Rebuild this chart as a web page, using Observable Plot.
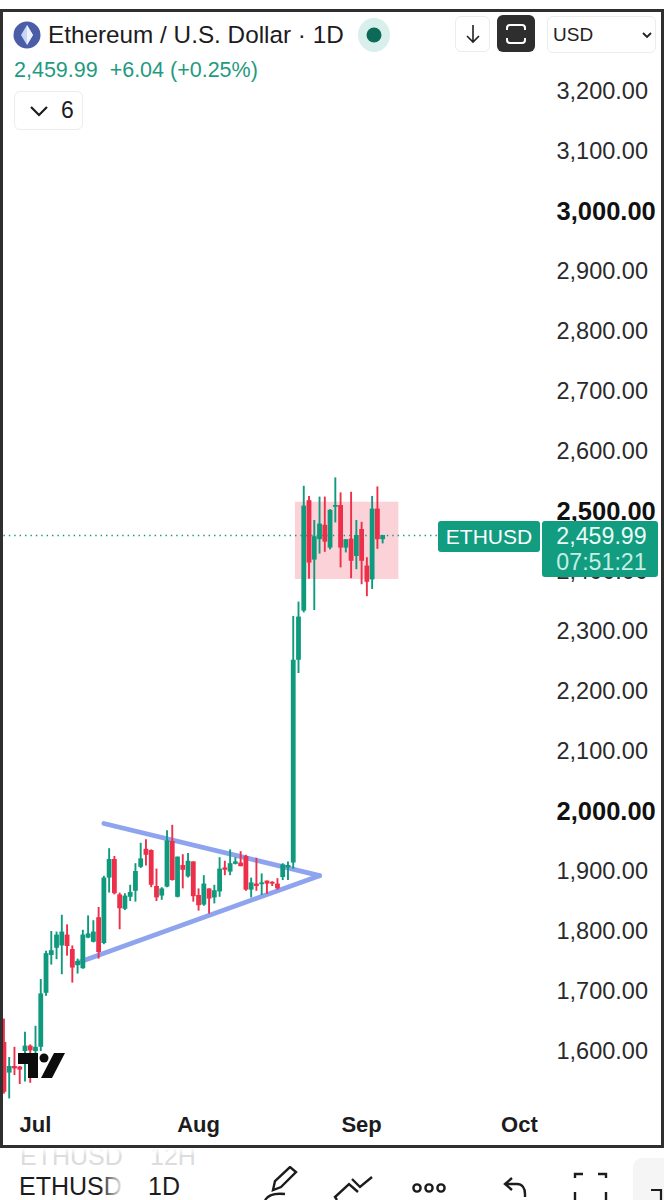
<!DOCTYPE html>
<html><head><meta charset="utf-8">
<script src="https://cdn.jsdelivr.net/npm/d3@7"></script>
<script src="https://cdn.jsdelivr.net/npm/@observablehq/plot@0.6"></script>
<style>
html,body{margin:0;padding:0;background:#fff}
#page{position:relative;width:664px;height:1200px;overflow:hidden;font-family:"Liberation Sans",sans-serif;color:#1c1c1e}
#page svg{display:block}
.o{position:absolute;white-space:nowrap;line-height:1}
.box{position:absolute;box-sizing:border-box;border:1.5px solid #ececec;border-radius:6px;background:#fff}
</style></head><body><div id="page"><div id="chart"></div>
<div class="o" style="left:20px;top:1144px;font-size:25px;color:#dcdcdc">ETHUSD</div>
<div class="o" style="left:150px;top:1144px;font-size:25px;color:#dcdcdc">12H</div>
<div class="o" style="left:0;top:1148px;width:664px;height:8px;background:linear-gradient(180deg,#fff,rgba(255,255,255,0))"></div>
<div class="o" style="left:0;top:9px;width:664px;height:1139px;box-sizing:border-box;border:3px solid #2f2f2f"></div>

<svg class="o" style="left:13px;top:21px" width="28" height="28" viewBox="0 0 28 28"><circle cx="14" cy="14" r="13.5" fill="#4a5da6"/><path d="M14 4l6 10-6 10-6-10z" fill="#c9d5f7"/><path d="M14 4v20l6-10z" fill="#eef2ff"/></svg>
<div class="o" style="left:48px;top:23px;font-size:24.3px">Ethereum / U.S. Dollar · 1D</div>
<svg class="o" style="left:357px;top:17px" width="34" height="36"><ellipse cx="17" cy="18" rx="16" ry="17" fill="#d9efec"/><circle cx="17" cy="18" r="7.5" fill="#0b6b58"/></svg>
<div class="box" style="left:455px;top:16px;width:35px;height:36px"></div>
<svg class="o" style="left:465px;top:24px" width="16" height="20" fill="none" stroke="#222" stroke-width="1.6"><path d="M8 1v17M2 12l6 6 6-6"/></svg>
<div class="o" style="left:497px;top:15px;width:38px;height:37px;background:#2e2e2e;border-radius:6px"></div>
<svg class="o" style="left:505px;top:23px" width="22" height="22" fill="none" stroke="#fff" stroke-width="2"><path d="M2 7V5a3 3 0 0 1 3-3h12a3 3 0 0 1 3 3v2M2 15v2a3 3 0 0 0 3 3h12a3 3 0 0 0 3-3v-2"/></svg>
<div class="box" style="left:547px;top:16px;width:109px;height:37px"></div>
<div class="o" style="left:553px;top:25px;font-size:19px;color:#222">USD</div>
<svg class="o" style="left:642px;top:32px" width="10" height="7" fill="none" stroke="#222" stroke-width="1.8"><path d="M1 1l4 4 4-4"/></svg>
<div class="o" style="left:14px;top:60px;font-size:21.5px;color:#1f9b80">2,459.99&nbsp; +6.04 (+0.25%)</div>
<div class="box" style="left:14px;top:91px;width:69px;height:39px"></div>
<svg class="o" style="left:29px;top:105px" width="20" height="12" fill="none" stroke="#1c1c1e" stroke-width="2.2"><path d="M2 2l8 8 8-8"/></svg>
<div class="o" style="left:61px;top:99px;font-size:23px">6</div>

<svg class="o" style="left:18px;top:1052px" width="48" height="27" fill="#0c0c0c"><path d="M0 1h20v25H10V12H0z"/><circle cx="26" cy="6" r="4.5"/><path d="M36 1h11L34 26H23z"/></svg>

<div class="o" style="left:438px;top:521px;width:102px;height:31px;background:#129c80;border-radius:3px;color:#fff;font-size:21px;line-height:32px;text-align:center">ETHUSD</div>
<div class="o" style="left:542px;top:521px;width:116px;height:56px;background:#129c80;border-radius:3px;color:#eafaf6;font-size:23.2px;line-height:26px;text-align:center;padding:2px 0 0 3px;box-sizing:border-box">2,459.99<br><span style="color:#c4efe5">07:51:21</span></div>

<div class="o" style="left:19px;top:1174px;font-size:25px;color:#1c1c1e">ETHUSD</div>
<div class="o" style="left:100px;top:1170px;width:24px;height:30px;background:linear-gradient(90deg,rgba(255,255,255,0),#fff)"></div>
<div class="o" style="left:148px;top:1174px;font-size:25px;color:#1c1c1e">1D</div>
<svg class="o" style="left:260px;top:1166px" width="404" height="34" fill="none" stroke="#1c1c1e" stroke-width="2.4">
<path d="M13 24l2-9 15-14 6 5-15 15zM5 34c3-5 11-7 20-6"/>
<path d="M77 34l-2-3 14-13 9 8M92 13l8 8 12-10"/>
<circle cx="157" cy="22" r="3.6"/><circle cx="169" cy="22" r="3.6"/><circle cx="181" cy="22" r="3.6"/>
<path d="M252 24l-7-6 7-6M245 18h12c5 0 8 4 8 10v3"/>
<path d="M315 12V8h8M338 8h8v4M315 26v8M346 26v8"/>
</svg>
<div class="o" style="left:633px;top:1158px;width:60px;height:60px;background:#f5f5f5;border-radius:9px"></div>
<svg class="o" style="left:650px;top:1188px" width="14" height="12" fill="none" stroke="#1c1c1e" stroke-width="2.2"><path d="M1 2h10v10"/></svg>
</div>
<script>
const dates = d3.utcDay.range(new Date("2024-06-25"), new Date("2024-09-06"));
const opens = [1615,1564,1575,1574,1600,1609,1600,1607,1697,1760,1772,1776,1794,1770,1743,1738,1789,1782,1823,1780,1889,1920,1861,1837,1857,1867,1907,1937,1935,1875,1859,1874,
1950,1857,1910,1891,1916,1860,1844,1871,1856,1866,1906,1899,1912,1914,1925,1869,1879,1878,1884,1882,1879,1890,1906,
1914,2252,2334,2518,2419,2453,2477,2439,2507,2510,2439,2454,2425,2470,2409,2386,2504,2453];
const closes = [1532,1575,1571,1569,1609,1601,1607,1696,1763,1768,1794,1799,1775,1739,1750,1794,1796,1799,1765,1889,1920,1863,1838,1859,1865,1900,1921,1927,1877,1856,1871,1951,
1885,1924,1902,1917,1858,1843,1879,1854,1868,1904,1902,1913,1916,1908,1869,1881,1875,1881,1879,1879,1871,1911,1910,
2252,2324,2509,2414,2458,2479,2449,2502,2510,2439,2453,2417,2460,2417,2382,2504,2453,2459.99];
const highs = [1654,1590,1607,1575,1632,1611,1642,1720,1767,1800,1799,1827,1811,1776,1754,1802,1826,1818,1840,1892,1938,1925,1864,1863,1877,1913,1947,1953,1936,1904,1873,1968,
1977,1924,1928,1930,1916,1871,1893,1871,1877,1923,1917,1936,1923,1933,1927,1889,1922,1896,1884,1883,1888,1913,1916,
2325,2349,2542,2525,2485,2524,2524,2503,2556,2531,2453,2532,2485,2482,2423,2525,2541,2460];
const lows = [1529,1521,1560,1545,1549,1547,1590,1600,1692,1744,1753,1728,1759,1714,1729,1737,1788,1781,1754,1778,1864,1861,1803,1835,1850,1849,1905,1909,1873,1850,1852,1873,
1884,1856,1871,1889,1849,1834,1842,1829,1846,1857,1893,1893,1911,1908,1867,1856,1867,1860,1862,1875,1869,1885,1885,
1904,2230,2331,2387,2335,2429,2432,2436,2481,2406,2431,2388,2403,2378,2358,2370,2437,2446];
const yTicksRegular = [3200,3100,2900,2800,2700,2600,2400,2300,2200,2100,1900,1800,1700,1600];
const yTicksBold = [3000,2500,2000];
const xTicks = ["2024-07-01","2024-08-01","2024-09-01","2024-10-01"].map(d => new Date(d));
const lastPrice = 2459.99;
const upperLine = [{d:new Date("2024-07-14"),p:1980},{d:new Date("2024-08-24"),p:1893}];
const lowerLine = [{d:new Date("2024-07-09"),p:1748},{d:new Date("2024-08-24"),p:1893}];
const rangeBox = [{d1:new Date("2024-08-19T10:00Z"),d2:new Date("2024-09-08T02:00Z"),top:2515.5,bottom:2386.7}];
const dottedEnds = [{d1:new Date("2024-06-25"),d2:new Date("2024-10-05T00:00Z")}];

const candles = dates.map((d,i)=>({d,o:opens[i],c:closes[i],h:highs[i],l:lows[i]}));
const up = candles.filter(d=>d.c>=d.o), down = candles.filter(d=>d.c<d.o);
const GREEN="#0f9a7e", RED="#ee2f4a";
const fmt = d3.format(",.2f");
const AXF = "Liberation Sans";
const candleMarks = (data,color)=>[
  Plot.ruleX(data,{x:"d",y1:"l",y2:"h",stroke:color,strokeWidth:1.9}),
  Plot.ruleX(data,{x:"d",y1:"o",y2:"c",stroke:color,strokeWidth:4.8})
];
const chart = Plot.plot({
  width:664,height:1200,
  marginLeft:0,marginRight:108,marginTop:0,marginBottom:90,
  style:{background:"#fff",fontFamily:AXF,color:"#1c1c1e",overflow:"hidden"},
  x:{type:"utc",domain:[new Date("2024-06-24T08:18Z"),new Date("2024-10-28T14:00Z")],range:[0,664]},
  y:{type:"linear",domain:[3200,1600],range:[91,1051]},
  marks:[
    Plot.rect(rangeBox,{x1:"d1",x2:"d2",y1:"bottom",y2:"top",fill:"#fbd2d7"}),
    Plot.ruleY([lastPrice],{x1:()=>dottedEnds[0].d1,x2:()=>dottedEnds[0].d2,stroke:GREEN,strokeWidth:1.3,strokeDasharray:"1.4,4"}),
    Plot.line(upperLine,{x:"d",y:"p",stroke:"#8fa4ee",strokeWidth:4.8,strokeLinecap:"round"}),
    Plot.line(lowerLine,{x:"d",y:"p",stroke:"#8fa4ee",strokeWidth:4.8,strokeLinecap:"round"}),
    ...candleMarks(up,GREEN),
    ...candleMarks(down,RED),
    Plot.axisY(yTicksRegular,{anchor:"right",tickSize:0,tickPadding:0,label:null,tickFormat:fmt,fontSize:23.5,fill:"#2a2a2c"}),
    Plot.axisY(yTicksBold,{anchor:"right",tickSize:0,tickPadding:0,label:null,tickFormat:fmt,fontSize:25.5,fontWeight:700,fill:"#111"}),
    Plot.axisX(xTicks,{anchor:"bottom",tickSize:0,tickPadding:6,label:null,tickFormat:d3.utcFormat("%b"),fontSize:22,fontWeight:700,fill:"#1c1c1e"})
  ]
});
document.getElementById("chart").appendChild(chart);
</script></body></html>
